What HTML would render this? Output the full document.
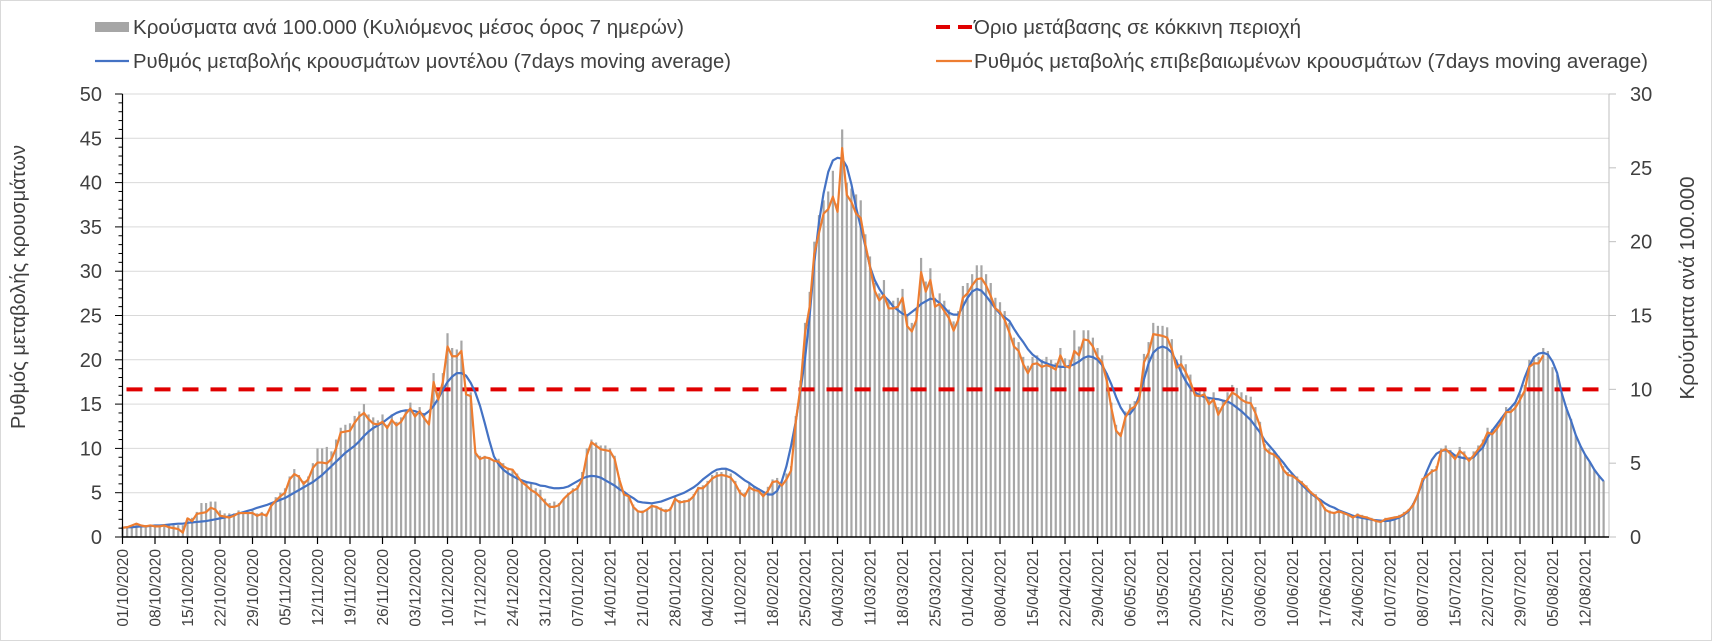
<!DOCTYPE html>
<html><head><meta charset="utf-8">
<style>
html,body{margin:0;padding:0;background:#fff;}
svg{display:block;font-family:"Liberation Sans",sans-serif;}
</style></head>
<body>
<svg id="chart" width="1712" height="641" viewBox="0 0 1712 641" xmlns="http://www.w3.org/2000/svg">
<rect x="0.5" y="0.5" width="1711" height="640" fill="#fff" stroke="#d9d9d9"/>
<g id="grid"></g>
<g id="bars"></g>
<g id="lines"></g>
<g id="axes"></g>
<g>
  <g>
    <rect x="95" y="22" width="34" height="10" fill="#a6a6a6"/>
    <text x="133" y="34" font-size="20" fill="#404040" textLength="551" lengthAdjust="spacingAndGlyphs">Κρούσματα ανά 100.000 (Κυλιόμενος μέσος όρος 7 ημερών)</text>
  </g>
  <g>
    <line x1="95" y1="61" x2="129" y2="61" stroke="#4472c4" stroke-width="2.2"/>
    <text x="133" y="68" font-size="20" fill="#404040" textLength="598" lengthAdjust="spacingAndGlyphs">Ρυθμός μεταβολής κρουσμάτων μοντέλου (7days moving average)</text>
  </g>
  <g>
    <line x1="936" y1="27" x2="972" y2="27" stroke="#e00000" stroke-width="4" stroke-dasharray="14 8"/>
    <text x="974" y="34" font-size="20" fill="#404040" textLength="327" lengthAdjust="spacingAndGlyphs">Όριο μετάβασης σε κόκκινη περιοχή</text>
  </g>
  <g>
    <line x1="936" y1="61" x2="972" y2="61" stroke="#ed7d31" stroke-width="2.2"/>
    <text x="974" y="68" font-size="20" fill="#404040" textLength="674" lengthAdjust="spacingAndGlyphs">Ρυθμός μεταβολής επιβεβαιωμένων κρουσμάτων (7days moving average)</text>
  </g>
</g>
<text x="0" y="0" font-size="20" fill="#404040" text-anchor="middle" transform="translate(25,287) rotate(-90)" textLength="284" lengthAdjust="spacingAndGlyphs">Ρυθμός μεταβολής κρουσμάτων</text>
<text x="0" y="0" font-size="20" fill="#404040" text-anchor="middle" transform="translate(1694,288) rotate(-90)" textLength="223" lengthAdjust="spacingAndGlyphs">Κρούσματα ανά 100.000</text>
</svg>
<script>
const startDate = [2020, 9, 1];
const weekLabels = ["01/10/2020","08/10/2020","15/10/2020","22/10/2020","29/10/2020","05/11/2020","12/11/2020","19/11/2020","26/11/2020","03/12/2020","10/12/2020","17/12/2020","24/12/2020","31/12/2020","07/01/2021","14/01/2021","21/01/2021","28/01/2021","04/02/2021","11/02/2021","18/02/2021","25/02/2021","04/03/2021","11/03/2021","18/03/2021","25/03/2021","01/04/2021","08/04/2021","15/04/2021","22/04/2021","29/04/2021","06/05/2021","13/05/2021","20/05/2021","27/05/2021","03/06/2021","10/06/2021","17/06/2021","24/06/2021","01/07/2021","08/07/2021","15/07/2021","22/07/2021","29/07/2021","05/08/2021","12/08/2021"];
const leftTicks = [0,5,10,15,20,25,30,35,40,45,50];
const rightTicks = [0,5,10,15,20,25,30];
const redThresholdRight = [10];
// cases per 100k (right axis), daily
const casesBars = [
0.7,0.7,0.8,0.9,0.8,0.8,0.8,0.8,0.8,0.8,
0.8,0.8,0.8,0.8,1.3,1.3,1.7,2.3,2.3,2.4,
2.4,1.8,1.6,1.6,1.6,1.8,1.7,1.7,1.8,1.6,
1.7,1.6,2.3,2.7,3.0,3.3,4.1,4.6,4.2,3.8,
4.1,5.0,6.0,6.0,6.1,5.8,6.6,7.4,7.6,7.7,
8.2,8.5,9.0,8.3,8.1,7.9,8.3,7.6,8.3,7.8,
8.1,8.6,9.1,8.4,8.8,8.4,7.9,11.1,9.8,11.1,
13.8,12.8,12.7,13.3,10.0,9.8,5.8,5.5,5.5,5.4,
5.2,5.3,5.0,4.7,4.6,4.3,3.9,3.7,3.6,3.3,
3.2,2.6,2.3,2.4,2.3,2.6,3.0,3.3,3.5,4.4,
6.0,6.6,6.4,6.2,6.2,6.0,5.5,4.0,3.0,2.8,
2.2,1.8,1.8,1.9,2.2,2.1,2.0,1.9,2.0,2.8,
2.5,2.5,2.6,2.9,3.4,3.5,3.8,4.2,4.4,4.4,
4.6,4.3,3.8,3.2,3.0,3.7,3.4,3.3,3.0,3.4,
3.9,4.0,3.7,4.3,4.8,8.2,10.6,14.5,16.6,20.0,
21.8,22.8,23.4,24.8,22.6,27.6,24.0,23.6,23.2,22.8,
20.5,19.0,17.2,16.5,17.4,16.0,16.0,16.2,16.8,15.0,
14.5,15.4,18.9,17.3,18.2,16.2,16.5,16.0,15.4,14.6,
15.3,17.0,17.2,17.8,18.4,18.4,17.8,17.2,16.2,15.9,
15.3,14.5,13.5,13.2,12.2,11.6,12.2,12.3,12.0,12.2,
12.0,11.8,12.8,12.1,12.0,14.0,12.9,14.0,14.0,13.5,
12.8,12.3,11.1,9.1,7.6,7.1,8.5,9.0,9.2,9.8,
12.4,13.2,14.5,14.3,14.3,14.2,13.4,12.0,12.3,11.7,
11.0,10.1,10.0,10.1,9.4,9.8,8.8,9.3,9.8,10.3,
10.1,9.8,9.6,9.5,8.8,7.8,6.3,6.0,5.8,5.5,
4.8,4.4,4.3,4.1,3.8,3.5,3.1,2.9,2.5,2.0,
1.8,1.7,1.8,1.7,1.6,1.4,1.6,1.5,1.4,1.3,
1.2,1.1,1.3,1.3,1.4,1.5,1.7,1.9,2.3,3.0,
4.0,4.3,4.6,4.8,6.0,6.2,5.9,5.5,6.1,5.8,
5.4,5.8,6.2,6.6,7.4,7.3,7.6,8.1,8.8,8.8,
9.1,9.7,10.3,12.0,12.2,12.2,12.8,12.6,11.5,11.0,
9.7,8.8,8.0,6.9,6.2,5.6,5.1,4.6,4.2,3.8];
// model rate (left axis), daily
const modelRate = [
1.05,1.1,1.1,1.15,1.2,1.2,1.25,1.3,1.3,1.35,
1.4,1.45,1.5,1.5,1.6,1.65,1.7,1.75,1.8,1.9,
2.0,2.1,2.2,2.35,2.5,2.65,2.8,2.95,3.1,3.3,
3.45,3.6,3.8,4.0,4.2,4.4,4.7,5.0,5.3,5.6,
5.9,6.2,6.6,7.0,7.5,8.0,8.5,9.0,9.5,9.9,
10.3,10.8,11.4,11.9,12.3,12.6,12.9,13.3,13.7,14.0,
14.2,14.3,14.3,14.2,14.0,13.8,14.2,14.8,15.6,16.6,
17.5,18.1,18.5,18.5,18.2,17.4,16.3,14.8,12.9,10.9,
9.1,8.2,7.6,7.2,6.9,6.6,6.4,6.2,6.1,6.0,
5.8,5.75,5.6,5.5,5.5,5.55,5.7,6.0,6.3,6.6,
6.8,6.9,6.85,6.7,6.4,6.1,5.8,5.4,5.1,4.7,
4.4,4.0,3.9,3.85,3.8,3.9,4.0,4.2,4.4,4.6,
4.8,5.0,5.3,5.6,6.0,6.5,6.9,7.3,7.6,7.7,
7.7,7.5,7.2,6.8,6.4,6.1,5.7,5.4,5.1,4.8,
4.8,5.2,6.3,8.0,10.3,13.0,16.5,20.1,25.0,31.0,
35.5,38.8,41.2,42.5,42.8,42.7,41.8,39.8,37.2,35.0,
32.8,30.5,29.0,28.0,27.2,26.7,26.0,25.6,25.2,25.0,
25.4,25.8,26.3,26.6,26.9,26.8,26.4,25.9,25.3,25.1,
25.1,26.0,27.0,27.7,28.0,27.8,27.2,26.5,25.8,25.2,
24.8,24.4,23.5,22.7,22.0,21.2,20.6,20.2,19.8,19.6,
19.4,19.3,19.2,19.2,19.3,19.5,19.8,20.2,20.4,20.3,
20.0,19.4,18.4,17.2,15.8,14.6,13.8,13.9,14.6,16.0,
17.8,19.6,20.8,21.3,21.5,21.3,20.8,19.8,18.6,17.6,
16.8,16.3,16.0,15.8,15.7,15.6,15.55,15.4,15.3,15.0,
14.6,14.2,13.7,13.2,12.5,11.8,10.9,10.3,9.7,9.0,
8.4,7.7,7.1,6.5,5.9,5.4,4.9,4.5,4.2,3.8,
3.5,3.3,3.0,2.8,2.6,2.4,2.25,2.15,2.05,1.95,
1.9,1.85,1.8,1.85,2.0,2.2,2.5,2.9,3.7,4.8,
6.2,7.5,8.7,9.4,9.7,9.8,9.6,9.2,9.0,8.9,
8.8,9.0,9.6,10.1,11.2,12.0,12.7,13.4,14.1,14.6,
15.2,16.4,18.0,19.3,20.3,20.7,20.8,20.6,19.8,18.5,
16.2,14.5,13.1,11.5,10.3,9.3,8.5,7.6,6.9,6.3];
// confirmed rate (left axis), daily
const confirmedRate = [
1.05,1.1,1.3,1.5,1.3,1.2,1.3,1.2,1.2,1.3,
1.1,1.0,0.9,0.5,2.1,1.8,2.6,2.7,2.8,3.3,
3.1,2.4,2.3,2.2,2.4,2.7,2.7,2.7,2.7,2.4,
2.6,2.4,3.5,4.1,4.6,5.0,6.5,7.1,6.8,6.0,
6.5,7.8,8.4,8.4,8.3,8.8,10.0,11.8,11.9,12.0,
12.9,13.6,14.0,13.3,12.8,12.7,13.0,12.3,13.2,12.6,
13.0,13.9,14.5,13.6,14.2,13.4,12.7,17.5,15.5,17.5,
21.5,20.4,20.4,21.0,16.1,15.9,9.5,8.8,9.0,8.9,
8.6,8.5,8.0,7.7,7.6,6.9,6.2,5.8,5.3,5.0,
4.5,3.9,3.4,3.4,3.6,4.3,4.8,5.2,5.5,6.5,
9.2,10.7,10.3,9.9,9.8,9.7,8.8,6.5,4.8,4.6,
3.4,2.9,2.8,3.1,3.5,3.4,3.1,2.9,3.1,4.3,
3.9,4.0,4.1,4.6,5.5,5.5,6.0,6.6,6.9,7.0,
6.9,6.7,6.0,5.0,4.6,5.6,5.3,5.2,4.6,5.2,
6.2,6.3,5.8,6.5,7.5,13.0,16.8,23.0,26.0,32.0,
34.3,36.5,37.0,38.4,36.7,43.9,38.6,37.8,36.5,36.0,
33.0,30.5,27.8,26.7,27.3,25.8,25.8,26.0,27.0,23.8,
23.2,24.5,29.9,27.7,29.0,26.0,26.3,25.5,24.7,23.3,
24.5,27.0,27.5,28.4,29.1,29.2,28.4,27.2,25.8,25.4,
24.5,23.1,21.5,21.0,19.5,18.5,19.5,19.6,19.2,19.4,
19.2,18.9,20.5,19.3,19.1,21.0,20.5,22.3,22.2,21.5,
20.3,19.7,17.6,14.5,12.0,11.4,13.5,14.4,14.7,15.5,
19.7,20.8,22.9,22.8,22.7,22.5,21.2,19.1,19.5,18.6,
17.5,16.0,15.9,16.1,15.0,15.5,13.8,14.8,15.5,16.3,
16.0,15.5,15.2,15.1,14.0,12.5,10.0,9.5,9.3,8.8,
7.6,7.0,6.9,6.5,6.1,5.6,5.0,4.6,4.0,3.1,
2.8,2.7,2.9,2.7,2.5,2.2,2.5,2.3,2.2,2.0,
1.8,1.7,2.0,2.1,2.2,2.3,2.6,3.0,3.6,4.8,
6.5,6.9,7.4,7.6,9.7,9.9,9.4,8.8,9.7,9.3,
8.6,9.2,9.9,10.6,11.8,11.6,12.2,13.0,14.1,14.1,
14.6,15.5,16.5,19.2,19.6,19.6,20.5];

const NS = "http://www.w3.org/2000/svg";
const X0 = 122.5, DAY = 4.643, XEND = 1609;
const Y0 = 537, YTOP = 94;
function xScale(d){ return X0 + d*DAY; }
function yLeft(v){ return Y0 - v*(Y0-YTOP)/50; }
function yRight(v){ return Y0 - v*(Y0-YTOP)/30; }
function mk(tag, attrs, parent){
  const el = document.createElementNS(NS, tag);
  for (const k in attrs) el.setAttribute(k, attrs[k]);
  parent.appendChild(el);
  return el;
}
const grid = document.getElementById('grid');
const axes = document.getElementById('axes');
const barsG = document.getElementById('bars');
const linesG = document.getElementById('lines');

leftTicks.forEach(function(t){
  if (t > 0) {
    const g = mk('line', {x1:X0, x2:XEND, y1:yLeft(t), y2:yLeft(t), stroke:'#d9d9d9', 'stroke-width':1}, grid);
    
    
  }
  const lab = mk('text', {x:102, y:yLeft(t)+7, 'font-size':20, fill:'#404040', 'text-anchor':'end'}, axes);
  lab.textContent = t;
  
  
  mk('line', {x1:115, x2:X0, y1:yLeft(t), y2:yLeft(t), stroke:'#000', 'stroke-width':1}, axes);
});
for (let v = 1; v < 50; v++) {
  if (v % 5 !== 0) mk('line', {x1:118.5, x2:X0, y1:yLeft(v), y2:yLeft(v), stroke:'#000', 'stroke-width':1}, axes);
}
rightTicks.forEach(function(t){
  const lab = mk('text', {x:1630, y:yRight(t)+7, 'font-size':20, fill:'#404040'}, axes);
  lab.textContent = t;
  
  
  mk('line', {x1:XEND, x2:XEND+7, y1:yRight(t), y2:yRight(t), stroke:'#bfbfbf', 'stroke-width':1}, axes);
});

casesBars.forEach(function(v, i){
  const y = yRight(v);
  const b = mk('rect', {x:xScale(i)-1.1, y:y, width:2.2, height:Y0-y, fill:'#a6a6a6'}, barsG);
  
  
});

const red = mk('line', {x1:X0, x2:XEND-5, y1:yRight(redThresholdRight[0]), y2:yRight(redThresholdRight[0]), stroke:'#e00000', 'stroke-width':4, 'stroke-dasharray':'16 12', 'stroke-dashoffset':'-4'}, linesG);



function pathFrom(arr, scale){
  return arr.map(function(v, i){ return (i ? 'L' : 'M') + xScale(i).toFixed(2) + ' ' + scale(v).toFixed(2); }).join(' ');
}
const blue = mk('path', {d:pathFrom(modelRate, yLeft), fill:'none', stroke:'#4472c4', 'stroke-width':2.2, 'stroke-linejoin':'round'}, linesG);


const orange = mk('path', {d:pathFrom(confirmedRate, yLeft), fill:'none', stroke:'#ed7d31', 'stroke-width':2.2, 'stroke-linejoin':'round'}, linesG);



const la = mk('line', {x1:X0, x2:X0, y1:YTOP, y2:Y0, stroke:'#000', 'stroke-width':1.2}, axes);


const ra = mk('line', {x1:XEND, x2:XEND, y1:YTOP, y2:Y0, stroke:'#bfbfbf', 'stroke-width':1}, axes);


const xa = mk('line', {x1:X0, x2:XEND, y1:Y0, y2:Y0, stroke:'#000', 'stroke-width':1.4}, axes);



weekLabels.forEach(function(lbl, k){
  const x = xScale(k*7);
  mk('line', {x1:x, x2:x, y1:Y0, y2:Y0+7, stroke:'#000', 'stroke-width':1.2}, axes);
  const t = mk('text', {x:0, y:0, 'font-size':15.5, fill:'#404040', 'text-anchor':'end', transform:'translate(' + (x+5.5) + ',' + (Y0+12) + ') rotate(-90)'}, axes);
  t.textContent = lbl;
  
  
});
</script>
</body></html>
